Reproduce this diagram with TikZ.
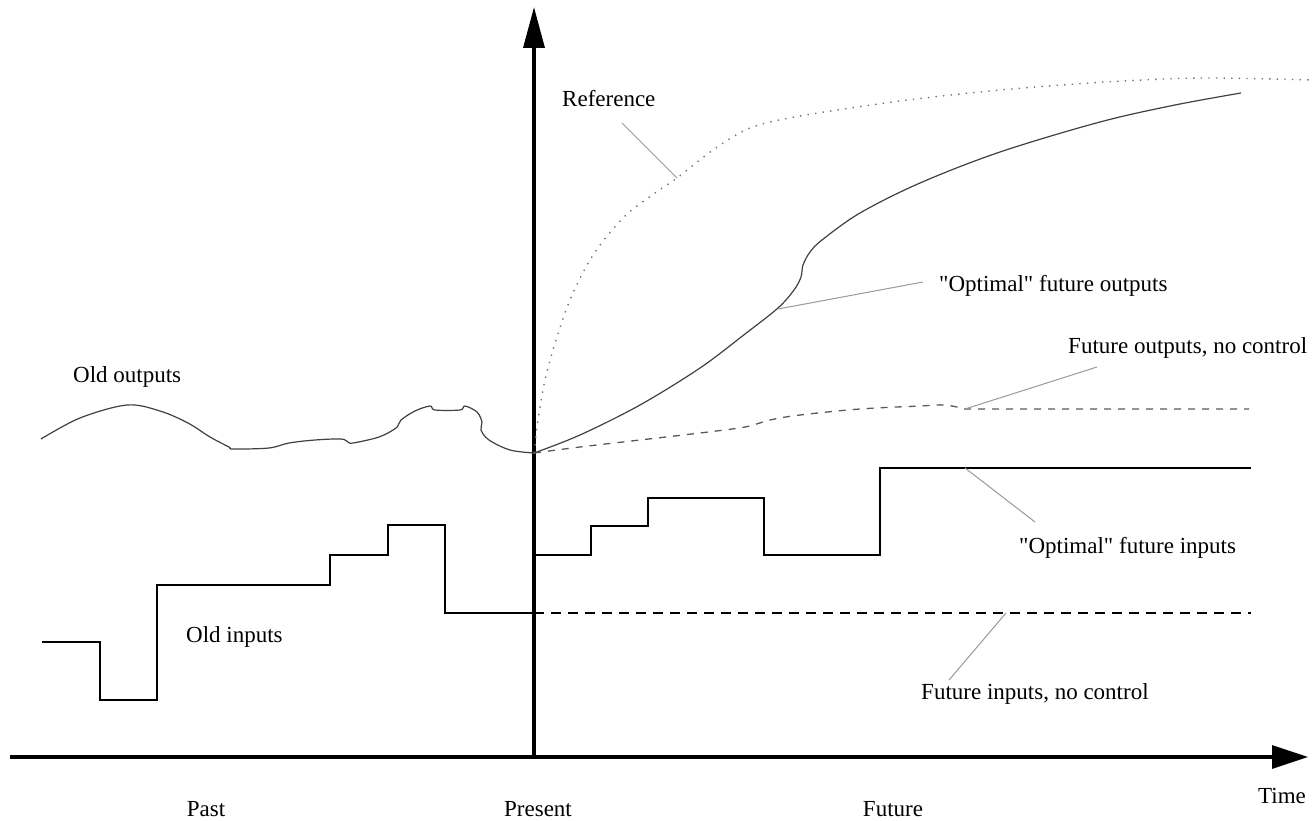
\documentclass[tikz,border=0pt]{standalone}
\usepackage{fontspec}
\setmainfont{Liberation Serif}
\usetikzlibrary{arrows.meta}
\begin{document}
\begin{tikzpicture}[x=1pt,y=-1pt,
  lbl/.style={inner sep=0pt,anchor=base west,font=\fontsize{23}{27}\selectfont},
  axisline/.style={line width=3.4pt,black},
  stepline/.style={line width=1.8pt,black,line join=miter},
  curveline/.style={line width=1.2pt,black!75},
  dotline/.style={line width=1.4pt,black!55,dash pattern=on 1.4pt off 6.2pt},
  dashout/.style={line width=1.3pt,black!65,dash pattern=on 7pt off 7pt},
  dashin/.style={line width=1.8pt,black,dash pattern=on 10pt off 7pt},
  leader/.style={line width=1pt,black!40}]
\useasboundingbox (0,0) rectangle (1314,821);

% axes
\coordinate (origin) at (534,757);
\coordinate (ytip) at (534,7);
\coordinate (xstart) at (10,757);
\coordinate (xtip) at (1308,757);
\draw[axisline,-{Triangle[length=41pt,width=21pt]}] (origin) -- (ytip);
\draw[axisline,-{Triangle[length=36pt,width=23pt]}] (xstart) -- (xtip);

% old outputs
\draw[curveline] plot[smooth,tension=0.55] coordinates {
 (41,439) (80,418) (127,405) (160,411) (188,423) (210,437) (229,447) (233,449)
 (269,448) (289,443) (315,440) (341,439) (348,442) (353,443) (379,437)
 (396,428) (401,420) (415,411) (430,406) (435,410) (460,410) (465,406)
 (477,412) (482,422) (481,430) (489,440) (510,450) (534,453)};

% reference (dotted)
\draw[dotline] plot[smooth,tension=0.5] coordinates {
 (534,453) (538,420) (545,380) (556,340) (572,295) (595,252) (625,216)
 (655,193) (677,178) (713,150) (750,128) (800,116) (900,101) (1000,90)
 (1106,82) (1200,78) (1314,80)};
\coordinate (refpt) at (677,178);

% optimal future outputs
\draw[curveline] plot[smooth,tension=0.55] coordinates {
 (534,453) (580,435) (640,405) (700,368) (745,334) (778,308) (794,290)
 (801,277) (803,265) (810,252) (822,240) (860,213) (920,183) (1000,152)
 (1100,122) (1175,105) (1241,93)};
\coordinate (optoutpt) at (778,309);

% future outputs, no control
\draw[dashout] plot[smooth,tension=0.55] coordinates {
 (534,453) (580,447) (640,440) (700,433) (745,427) (770,420) (800,415)
 (860,409) (920,406) (945,405) (965,409)} -- (1249,409);
\coordinate (nocoutpt) at (965,409);

% old inputs
\draw[stepline] (42,642) -- (100,642) -- (100,700) -- (157,700) -- (157,585)
 -- (330,585) -- (330,555) -- (388,555) -- (388,525) -- (445,525) -- (445,613)
 -- (534,613);

% optimal future inputs
\draw[stepline] (534,555) -- (591,555) -- (591,526) -- (648,526) -- (648,498)
 -- (764,498) -- (764,555) -- (880,555) -- (880,468) -- (1251,468);
\coordinate (optinpt) at (965,468);

% future inputs, no control
\draw[dashin] (534,613) -- (1251,613);
\coordinate (nocinpt) at (1006,613);

% labels
\node[lbl] (reflbl) at (562,107) {Reference};
\node[lbl] (oldoutlbl) at (73,382) {Old outputs};
\node[lbl] (optoutlbl) at (939,291) {\textquotedbl Optimal\textquotedbl\ future outputs};
\node[lbl] (nocoutlbl) at (1068,353) {Future outputs, no control};
\node[lbl] (optinlbl) at (1019,553) {\textquotedbl Optimal\textquotedbl\ future inputs};
\node[lbl] (oldinlbl) at (186,642) {Old inputs};
\node[lbl] (nocinlbl) at (921,699) {Future inputs, no control};
\node[lbl,anchor=base] (pastlbl) at (206,816) {Past};
\node[lbl,anchor=base] (presentlbl) at (538,816) {Present};
\node[lbl,anchor=base] (futurelbl) at (893,816) {Future};
\node[lbl,anchor=base] (timelbl) at (1282,803) {Time};

% leaders
\coordinate (refl) at (622,123);
\coordinate (optoutl) at (923,282);
\coordinate (nocoutl) at (1097,367);
\coordinate (optinl) at (1035,522);
\coordinate (nocinl) at (949,680);
\draw[leader] (refl) -- (refpt);
\draw[leader] (optoutpt) -- (optoutl);
\draw[leader] (nocoutpt) -- (nocoutl);
\draw[leader] (optinpt) -- (optinl);
\draw[leader] (nocinpt) -- (nocinl);
\end{tikzpicture}
\end{document}
